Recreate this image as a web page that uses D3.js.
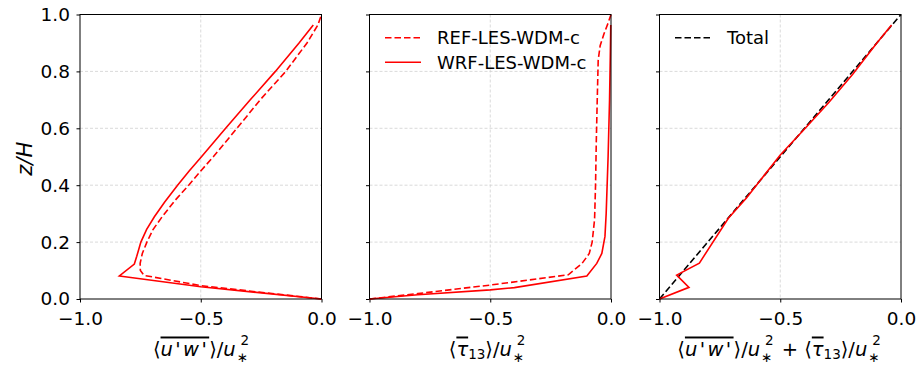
<!DOCTYPE html>
<html>
<head>
<meta charset="utf-8">
<script src="https://cdn.jsdelivr.net/npm/d3@7"></script>
<style>
  html, body { margin: 0; padding: 0; background: #fff; }
  svg { display: block; font-family: "DejaVu Sans", sans-serif; }
  .grid line { stroke: #d0d0d0; stroke-width: 0.8; stroke-dasharray: 3,2; }
  .axis path, .axis line { stroke: #000; }
</style>
</head>
<body>
<main></main>
<script>
"use strict";

// [x, z/H] pairs
const uwRef = [[0, 0], [-0.5, 0.047], [-0.735, 0.083], [-0.75, 0.1], [-0.751, 0.125], [-0.742, 0.16],
  [-0.723, 0.2], [-0.697, 0.245], [-0.66, 0.289], [-0.608, 0.345], [-0.55, 0.4], [-0.5, 0.45],
  [-0.448, 0.5], [-0.35, 0.6], [-0.254, 0.7], [-0.148, 0.8], [-0.06, 0.9], [-0.015, 0.963], [0, 1.0]];
const uwWrf = [[0, 0], [-0.5, 0.043], [-0.837, 0.081], [-0.775, 0.123], [-0.765, 0.15], [-0.748, 0.2],
  [-0.724, 0.245], [-0.692, 0.289], [-0.65, 0.34], [-0.596, 0.4], [-0.548, 0.45], [-0.497, 0.5],
  [-0.397, 0.6], [-0.295, 0.7], [-0.191, 0.8], [-0.093, 0.9], [-0.034, 0.963]];

const tauRef = [[-1, 0], [-0.8, 0.019], [-0.5, 0.049], [-0.177, 0.085], [-0.12, 0.125], [-0.09, 0.16],
  [-0.078, 0.2], [-0.068, 0.28], [-0.064, 0.4], [-0.061, 0.55], [-0.057, 0.7], [-0.053, 0.84],
  [-0.045, 0.89], [-0.03, 0.93], [-0.012, 0.97], [0, 1.0]];
const tauWrf = [[-1, 0], [-0.8, 0.015], [-0.5, 0.032], [-0.4, 0.04], [-0.1, 0.081], [-0.059, 0.125],
  [-0.038, 0.16], [-0.025, 0.22], [-0.02, 0.3], [-0.012, 0.5], [-0.006, 0.7], [-0.003, 0.85], [-0.001, 0.963]];

const sumWrf = [[-1, 0], [-0.878, 0.041], [-0.929, 0.084], [-0.835, 0.126], [-0.715, 0.284], [-0.64, 0.355],
  [-0.58, 0.42], [-0.5, 0.506], [-0.41, 0.588], [-0.3, 0.69], [-0.2, 0.79], [-0.1, 0.9], [-0.039, 0.963]];
const totalLine = [[-1, 0], [0, 1]];

const xTicks = [-1.0, -0.5, 0.0];
const yTicks = [0.0, 0.2, 0.4, 0.6, 0.8, 1.0];
const legendNames = ["REF-LES-WDM-c", "WRF-LES-WDM-c"];
const totalName = "Total";

const width = 921;
const height = 366;
const plotTop = 14.5;
const plotBottom = 299;
const panelWidth = 241.5;
const panelLefts = [80, 369.5, 659.5];

const svg = d3.select("main")
  .append("svg")
  .attr("width", width)
  .attr("height", height)
;

const yScale = d3.scaleLinear().domain([0, 1]).range([plotBottom, plotTop]);

const panels = panelLefts.map((left, i) => {
  const xScale = d3.scaleLinear().domain([-1, 0]).range([left, left + panelWidth]);
  const g = svg.append("g");

  // grid
  const grid = g.append("g").attr("class", "grid");
  grid.selectAll("line.gx")
    .data(xTicks.slice(1, -1))
    .enter()
    .append("line")
    .attr("x1", d => xScale(d)).attr("x2", d => xScale(d))
    .attr("y1", plotTop).attr("y2", plotBottom)
  ;
  grid.selectAll("line.gy")
    .data(yTicks.slice(1, -1))
    .enter()
    .append("line")
    .attr("x1", left).attr("x2", left + panelWidth)
    .attr("y1", d => yScale(d)).attr("y2", d => yScale(d))
  ;

  const xAxis = d3.axisBottom(xScale)
    .tickValues(xTicks)
    .tickSize(3.5)
    .tickPadding(9)
    .tickFormat(d3.format(".1f"))
  ;
  const yAxis = d3.axisLeft(yScale)
    .tickValues(yTicks)
    .tickSize(3.5)
    .tickPadding(6.5)
    .tickFormat(i === 0 ? d3.format(".1f") : "")
  ;

  g.append("g")
    .attr("class", "axis")
    .attr("transform", `translate(0, ${plotBottom})`)
    .call(xAxis)
    .call(a => a.select(".domain").remove())
    .selectAll("text")
    .style("font-size", "18.5px")
    .style("font-family", "DejaVu Sans")
    .attr("fill", "#000")
  ;
  g.append("g")
    .attr("class", "axis")
    .attr("transform", `translate(${left}, 0)`)
    .call(yAxis)
    .call(a => a.select(".domain").remove())
    .selectAll("text")
    .style("font-size", "18.5px")
    .style("font-family", "DejaVu Sans")
    .attr("fill", "#000")
  ;

  return { g, xScale, left };
});

const line = (xScale) => d3.line()
  .x(d => xScale(d[0]))
  .y(d => yScale(d[1]))
;

const drawSeries = (p, data, color, dashed) => {
  p.g.append("path")
    .datum(data)
    .attr("fill", "none")
    .attr("stroke", color)
    .attr("stroke-width", 1.6)
    .attr("stroke-linejoin", "miter")
    .attr("stroke-dasharray", dashed ? "6.5,3" : null)
    .attr("d", line(p.xScale))
  ;
};

drawSeries(panels[0], uwRef, "#ff0000", true);
drawSeries(panels[0], uwWrf, "#ff0000", false);
drawSeries(panels[1], tauRef, "#ff0000", true);
drawSeries(panels[1], tauWrf, "#ff0000", false);
drawSeries(panels[2], totalLine, "#000000", true);
drawSeries(panels[2], sumWrf, "#ff0000", false);

// frames on top
panels.forEach(p => {
  p.g.append("rect")
    .attr("x", p.left)
    .attr("y", plotTop)
    .attr("width", panelWidth)
    .attr("height", plotBottom - plotTop)
    .attr("fill", "none")
    .attr("stroke", "#000")
    .attr("stroke-width", 1)
  ;
});

// legends
const legendItem = (x, y, color, dashed, label) => {
  svg.append("line")
    .attr("x1", x).attr("x2", x + 36)
    .attr("y1", y).attr("y2", y)
    .attr("stroke", color)
    .attr("stroke-width", 1.6)
    .attr("stroke-dasharray", dashed ? "6.5,3" : null)
  ;
  svg.append("text")
    .attr("x", x + 52)
    .attr("y", y + 6.3)
    .style("font-size", "18px")
    .text(label)
  ;
};
legendItem(385, 37.7, "#ff0000", true, legendNames[0]);
legendItem(385, 62.3, "#ff0000", false, legendNames[1]);
legendItem(675, 37.7, "#000000", true, totalName);

// axis labels (mathtext look-alikes)
const labelSize = 19.5;
const addUw = (t) => {
  t.append("tspan").text("\u27e8");
  t.append("tspan")
    .style("font-style", "italic")
    .style("text-decoration", "overline")
    .style("letter-spacing", "2.4px")
    .text("u'w'");
  t.append("tspan").text("\u27e9/");
};
const addTau = (t) => {
  t.append("tspan").text("\u27e8");
  t.append("tspan").style("font-style", "italic").style("text-decoration", "overline").text("\u03c4");
  t.append("tspan").attr("dy", 3).style("font-size", "13.5px").text("13");
  t.append("tspan").attr("dy", -3).text("\u27e9/");
};
const addUstar = (t) => {
  t.append("tspan").style("font-style", "italic").text("u");
  t.append("tspan").attr("dx", 1).attr("dy", 6).style("font-size", "13.5px").text("\u2217");
  t.append("tspan").attr("dx", -7.5).attr("dy", -17).style("font-size", "13.5px").text("2");
  t.append("tspan").attr("dy", 11).text("\u200a");
};

const xl1 = svg.append("text").attr("x", 202).attr("y", 355.5).attr("text-anchor", "middle").style("font-size", labelSize + "px");
addUw(xl1); addUstar(xl1);

const xl2 = svg.append("text").attr("x", 488).attr("y", 355.5).attr("text-anchor", "middle").style("font-size", labelSize + "px");
addTau(xl2); addUstar(xl2);

const xl3 = svg.append("text").attr("x", 780).attr("y", 355.5).attr("text-anchor", "middle").style("font-size", labelSize + "px");
addUw(xl3); addUstar(xl3);
xl3.append("tspan").text(" + ");
addTau(xl3); addUstar(xl3);

svg.append("text")
  .attr("transform", `translate(32, ${(plotTop + plotBottom) / 2 + 2}) rotate(-90)`)
  .attr("text-anchor", "middle")
  .style("font-size", "21px")
  .style("font-style", "italic")
  .text("z/H")
;
</script>
</body>
</html>
